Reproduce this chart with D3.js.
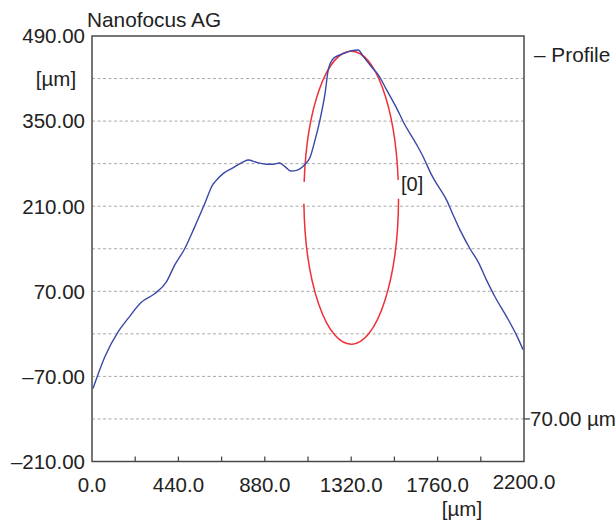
<!DOCTYPE html>
<html>
<head>
<meta charset="utf-8">
<script src="https://cdn.jsdelivr.net/npm/d3@7"></script>
<style>
  html, body { margin: 0; padding: 0; background: #fff; }
  svg { display: block; font-family: "Liberation Sans", Arial, Helvetica, sans-serif; }
</style>
</head>
<body>
<svg id="chart" width="616" height="523"></svg>
<script>
// ---- data ----
const profileX = [5, 65, 132, 183, 251, 319, 378, 421, 472, 523, 574, 616, 626, 669, 728, 770, 796, 839, 890, 923, 954, 983, 1012, 1042, 1085, 1110, 1136, 1161, 1187, 1203, 1229, 1263, 1288, 1322, 1356, 1382, 1424, 1458, 1501, 1552, 1585, 1654, 1687, 1730, 1755, 1806, 1832, 1874, 1925, 1967, 2010, 2052, 2112, 2163, 2195];
const profileY = [-90, -38, 3, 25, 52, 66, 85, 113, 140, 176, 214, 246, 250, 264, 275, 283, 286, 282, 279, 279, 281, 275, 268, 269, 279, 290, 319, 352, 396, 434, 453, 459, 462, 466, 467, 456, 439, 426, 401, 371, 349, 311, 291, 261, 247, 220, 201, 171, 140, 118, 88, 61, 28, -3, -26];
const fitCenter = [1320, 224];
const fitRadius = 241;
const fitArcAngles = [[6.9, 173.8], [182.4, 359.6]];   // degrees, gaps near the horizontal extremes
const yTickLabels = [490, 350, 210, 70, -70, -210];
const yGridValues = [420, 350, 280, 210, 140, 70, 0, -70, -140];
const xTickValues = [220, 440, 660, 880, 1100, 1320, 1540, 1760, 1980];
const xTickLabels = [0, 440, 880, 1320, 1760, 2200];

// ---- layout ----
const L = 92, R = 524, T = 36, B = 461.5;
const svg = d3.select("#chart");
const x = d3.scaleLinear().domain([0, 2200]).range([L, R]);
const y = d3.scaleLinear().domain([-210, 490]).range([B, T]);
const fmt2 = v => (v < 0 ? "\u2013" + Math.abs(v).toFixed(2) : v.toFixed(2));

// grid
svg.append("g").selectAll("line").data(yGridValues).join("line")
  .attr("x1", L).attr("x2", R)
  .attr("y1", d => y(d)).attr("y2", d => y(d))
  .attr("stroke", "#a8a8a8").attr("stroke-width", 1)
  .attr("stroke-dasharray", "3,2.5");

// frame
svg.append("rect").attr("x", L).attr("y", T).attr("width", R - L).attr("height", B - T)
  .attr("fill", "none").attr("stroke", "#4a4a4a").attr("stroke-width", 1.5);

// x ticks (inside, upward)
svg.append("g").selectAll("line").data(xTickValues).join("line")
  .attr("x1", d => x(d)).attr("x2", d => x(d))
  .attr("y1", B).attr("y2", B - 5)
  .attr("stroke", "#4a4a4a").attr("stroke-width", 1.3);

// y tick labels
svg.append("g").selectAll("text").data(yTickLabels).join("text")
  .attr("x", 85).attr("y", d => y(d)).attr("dy", "0.36em")
  .attr("text-anchor", "end").attr("font-size", 20.5).attr("fill", "#222")
  .text(fmt2);

// y unit
svg.append("text").attr("x", 56).attr("y", y(420)).attr("dy", "0.36em")
  .attr("text-anchor", "middle").attr("font-size", 20.5).attr("fill", "#222").text("[\u00b5m]");

// x tick labels
svg.append("g").selectAll("text").data(xTickLabels).join("text")
  .attr("x", d => x(d)).attr("y", d => d === 2200 ? 489 : 492)
  .attr("text-anchor", "middle").attr("font-size", 20.5).attr("fill", "#222")
  .text(d => d.toFixed(1));

// x unit
svg.append("text").attr("x", 462).attr("y", 516)
  .attr("text-anchor", "middle").attr("font-size", 20.5).attr("fill", "#222").text("[\u00b5m]");

// title
svg.append("text").attr("x", 87).attr("y", 26.5)
  .attr("font-size", 20.8).attr("fill", "#222").text("Nanofocus AG");

// legend
svg.append("text").attr("x", 534).attr("y", 62)
  .attr("font-size", 20.8).attr("fill", "#222").text("\u2013 Profile");

// right scale marker
svg.append("line").attr("x1", R).attr("x2", R + 6).attr("y1", y(-140)).attr("y2", y(-140))
  .attr("stroke", "#4a4a4a").attr("stroke-width", 1.3);
svg.append("text").attr("x", 530).attr("y", y(-140)).attr("dy", "0.36em")
  .attr("font-size", 20.5).attr("fill", "#222").text("70.00 \u00b5m");

// fit circle arcs (elliptical in pixel space)
const rxPx = x(fitRadius) - x(0);
const ryPx = y(0) - y(fitRadius);
const pt = a => [x(fitCenter[0] + fitRadius * Math.cos(a * Math.PI / 180)),
                 y(fitCenter[1] + fitRadius * Math.sin(a * Math.PI / 180))];
svg.append("g").selectAll("path").data(fitArcAngles).join("path")
  .attr("d", d => {
    const p0 = pt(d[0]), p1 = pt(d[1]);
    const large = (d[1] - d[0]) > 180 ? 1 : 0;
    return `M${p0[0]},${p0[1]} A${rxPx},${ryPx} 0 ${large} 0 ${p1[0]},${p1[1]}`;
  })
  .attr("fill", "none").attr("stroke", "#f03038").attr("stroke-width", 1.5);

// fit label
svg.append("text").attr("x", 401).attr("y", 190.5)
  .attr("font-size", 20).attr("fill", "#222").text("[0]");

// profile line
const pts = profileX.map((v, i) => [v, profileY[i]]);
svg.append("path").datum(pts)
  .attr("d", d3.line().x(d => x(d[0])).y(d => y(d[1])).curve(d3.curveMonotoneX))
  .attr("fill", "none").attr("stroke", "#3848a8").attr("stroke-width", 1.4);
</script>
</body>
</html>
